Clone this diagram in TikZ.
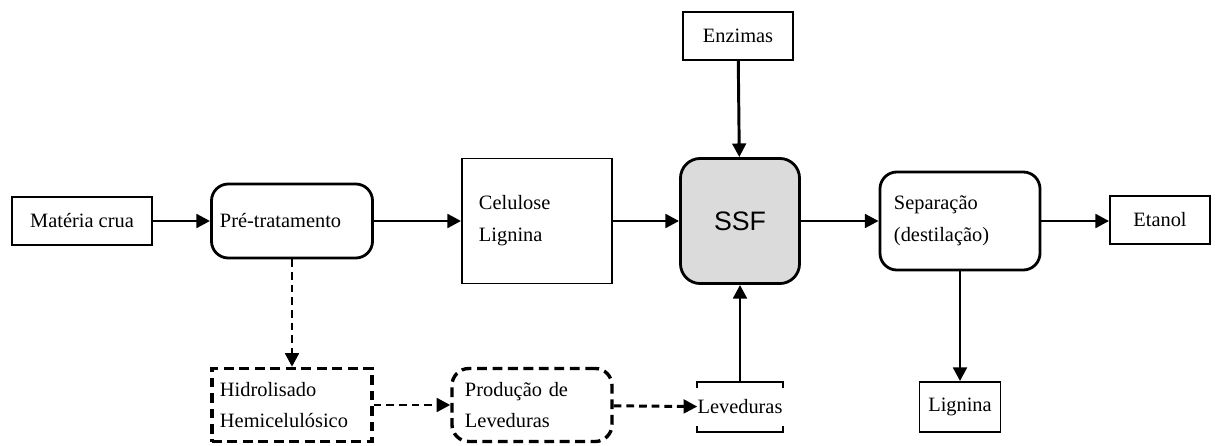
\documentclass[tikz,border=0pt]{standalone}
\usepackage{fontspec}
\setmainfont{Liberation Serif}
\newfontfamily\ssffont{Liberation Sans}
\usetikzlibrary{arrows.meta,calc}

\tikzset{
  plainbox/.style={draw,line width=1.3pt,inner sep=0pt,font=\fontsize{14.5}{22.7}\selectfont},
  roundbox/.style={draw,line width=2pt,rounded corners=12pt,inner sep=0pt,font=\fontsize{14.5}{22.7}\selectfont},
  dashbox/.style={draw,line width=2.4pt,dash pattern=on 7pt off 4pt,inner sep=0pt,font=\fontsize{14.5}{22.7}\selectfont},
  flow/.style={line width=2.1pt,->},
  dflow/.style={line width=2.1pt,dash pattern=on 5.5pt off 3.5pt,->}
}

\begin{document}
\begin{tikzpicture}[>={Triangle[length=3.4mm,width=3.4mm]},x=0.025cm,y=-0.025cm]
  \useasboundingbox (0,0) rectangle (1216,446);
  % caixas da linha principal
  \node[plainbox,minimum width=3.5cm,minimum height=1.2cm] (materia) at (82,221) {Matéria crua};
  \node[roundbox,minimum width=4.025cm,minimum height=1.85cm,text width=3.6cm,align=left] (pre) at (292,221) {Pré-tratamento};
  \node[plainbox,minimum width=3.75cm,minimum height=3.125cm,text width=2.9cm,align=left] (celulose) at (537,221) {Celulose\\Lignina};
  \node[roundbox,rounded corners=14pt,fill=gray!28,minimum width=2.975cm,minimum height=3.125cm,font=\ssffont\fontsize{19}{22}\selectfont] (ssf) at (740,221) {SSF};
  \node[roundbox,minimum width=4cm,minimum height=2.45cm,text width=3.3cm,align=left] (separacao) at (960,221) {Separação\\(destilação)};
  \node[plainbox,minimum width=2.5cm,minimum height=1.2cm] (etanol) at (1160,220) {Etanol};
  \node[plainbox,minimum width=2.75cm,minimum height=1.2cm] (enzimas) at (738,36) {Enzimas};
  % linha de baixo
  \node[dashbox,minimum width=4cm,minimum height=1.825cm,text width=3.6cm,align=left] (hidro) at (292,405) {Hidrolisado\\Hemicelulósico};
  \node[dashbox,rounded corners=12pt,minimum width=4cm,minimum height=1.825cm,text width=3.35cm,align=left] (producao) at (532,405) {Produção de\\Leveduras};
  \node[minimum width=2.025cm,minimum height=1.25cm,inner sep=0pt,font=\fontsize{14.5}{22.7}\selectfont] (leveduras) at (740,407) {Leveduras};
  \node[plainbox,minimum width=2.025cm,minimum height=1.25cm] (lignina) at (960,407) {Lignina};
  \draw[line width=1.3pt] ($(leveduras.north west)+(0,6)$) |- (leveduras.north) -| ($(leveduras.north east)+(0,6)$);
  \draw[line width=1.3pt] ($(leveduras.south west)+(0,-6)$) |- (leveduras.south) -| ($(leveduras.south east)+(0,-6)$);

  \draw[flow] (materia) -- (pre);
  \draw[flow] (pre) -- (celulose);
  \draw[flow] (celulose) -- (ssf);
  \draw[flow] (ssf) -- (separacao);
  \draw[flow] (separacao) -- (etanol.west|-separacao);
  \draw[flow] (enzimas) -- (ssf);
  \draw[flow] (leveduras) -- (ssf);
  \draw[flow] (separacao) -- (lignina);
  \draw[dflow] (pre) -- (hidro);
  \draw[dflow] (hidro) -- (producao);
  \draw[dflow] (producao) -- (leveduras);
\end{tikzpicture}
\end{document}
